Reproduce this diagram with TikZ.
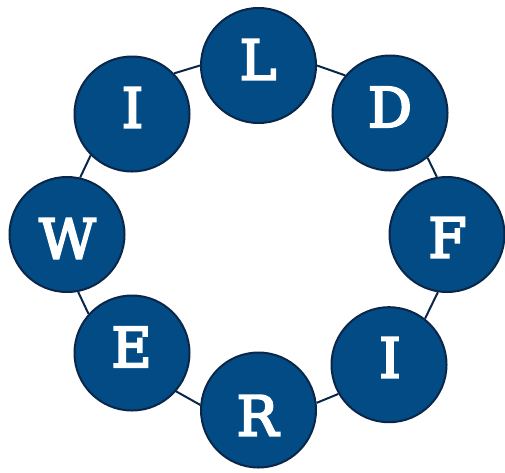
\documentclass[tikz,border=0pt]{standalone}
\usepackage{fontspec}
\newfontfamily\letterfont[FakeBold=4]{DejaVu Serif}
\definecolor{ballfill}{RGB}{2,75,133}
\definecolor{balledge}{RGB}{10,38,72}
\begin{document}
\begin{tikzpicture}[x=1pt,y=-1pt,
  ball/.style={circle,fill=ballfill,draw=balledge,line width=2pt,minimum size=115pt,inner sep=0pt},
  letter/.style={text=white,inner sep=0pt,font=\letterfont\fontsize{55}{60}\selectfont},
  link/.style={draw=balledge,line width=2pt}]
\useasboundingbox (0,0) rectangle (505,472);
\node[ball] (L)  at (258.5,65.5) {};
\node[ball] (D)  at (390,113) {};
\node[ball] (F)  at (447,234.5) {};
\node[ball] (IR) at (389,364.7) {};
\node[ball] (R)  at (258.5,410) {};
\node[ball] (E)  at (132,353) {};
\node[ball] (W)  at (67,234.5) {};
\node[ball] (IL) at (132,114) {};
\draw[link] (IL.44) -- (L.180);
\draw[link] (L.0) -- (D.140);
\draw[link] (D.-50) -- (F.100);
\draw[link] (F.-99) -- (IR.52);
\draw[link] (IR.-150) -- (R.7);
\draw[link] (R.175) -- (E.-41);
\draw[link] (E.138) -- (W.-79);
\draw[link] (W.77) -- (IL.-135);
\node[letter] (tL)  at (258,59.5) {L};
\node[letter] (tD)  at (390,107) {D};
\node[letter] (tF)  at (447.5,237.5) {F};
\node[letter] (tIR) at (390,357.5) {I};
\node[letter] (tR)  at (257.5,415.5) {R};
\node[letter] (tE)  at (131.5,347) {E};
\node[letter] (tW)  at (67.5,238.5) {W};
\node[letter] (tIL) at (132.5,107.5) {I};
\end{tikzpicture}
\end{document}
